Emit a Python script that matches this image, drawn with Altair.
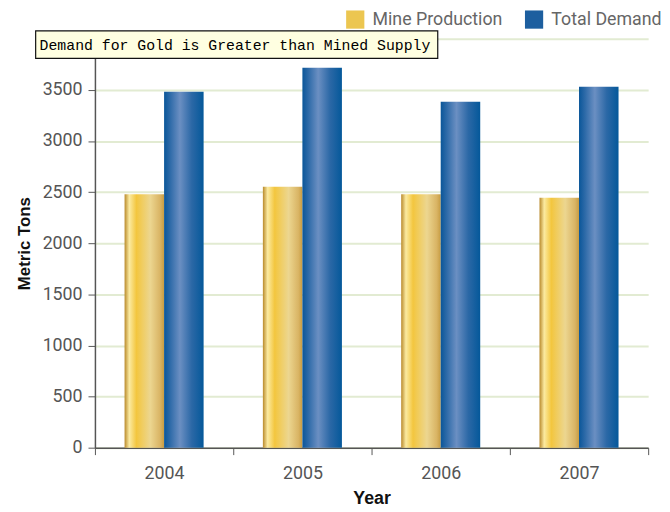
import altair as alt
import pandas as pd

years = ["2004", "2005", "2006", "2007"]
mine_production = [2478, 2552, 2478, 2444]
total_demand = [3482, 3716, 3384, 3529]
series_names = ["Mine Production", "Total Demand"]
note_text = "Demand for Gold is Greater than Mined Supply"

rows = []
for i, yr in enumerate(years):
    rows.append({"Year": yr, "Series": series_names[0], "Tons": mine_production[i]})
    rows.append({"Year": yr, "Series": series_names[1], "Tons": total_demand[i]})
df = pd.DataFrame(rows)

FONT = "Roboto, sans-serif"
BOLD = "Liberation Sans, Arial, sans-serif"

gold_grad = alt.Gradient(
    gradient="linear", x1=0, x2=1, y1=0, y2=0,
    stops=[
        alt.GradientStop(color="#b98a2c", offset=0.0),
        alt.GradientStop(color="#fbeaa0", offset=0.12),
        alt.GradientStop(color="#f3c63e", offset=0.3),
        alt.GradientStop(color="#ecd690", offset=0.65),
        alt.GradientStop(color="#d9b464", offset=0.9),
        alt.GradientStop(color="#c79c42", offset=1.0),
    ],
)
blue_grad = alt.Gradient(
    gradient="linear", x1=0, x2=1, y1=0, y2=0,
    stops=[
        alt.GradientStop(color="#0a5699", offset=0.0),
        alt.GradientStop(color="#2d6aa8", offset=0.15),
        alt.GradientStop(color="#6b8fc2", offset=0.4),
        alt.GradientStop(color="#2b68a6", offset=0.7),
        alt.GradientStop(color="#04589a", offset=1.0),
    ],
)

x_enc = alt.X(
    "Year:N",
    title="Year",
    scale=alt.Scale(paddingInner=0, paddingOuter=0),
    axis=alt.Axis(
        labelAngle=0, tickBand="extent", tickSize=7, tickColor="#555555",
        domainColor="#555555", domainWidth=1.5, labelColor="#555555",
        labelFontSize=18, labelFont=FONT, labelPadding=10,
        titleFont=BOLD, titleFontSize=18,
        titleFontWeight="bold", titleColor="#111111", titlePadding=8,
    ),
)
y_enc = alt.Y(
    "Tons:Q",
    title="Metric Tons",
    scale=alt.Scale(domain=[0, 4000], nice=False),
    axis=alt.Axis(
        values=[0, 500, 1000, 1500, 2000, 2500, 3000, 3500, 4000], format="d",
        labelExpr="datum.value == 4000 ? '' : datum.label",
        grid=True, gridColor="#e2ebd2", gridWidth=2,
        tickSize=7, tickColor="#555555", domainColor="#555555", domainWidth=1.5,
        labelColor="#555555", labelFontSize=18, labelFont=FONT, labelPadding=6,
        titleFont=BOLD, titleFontSize=17,
        titleFontWeight="bold", titleColor="#111111", titlePadding=9,
    ),
)
xoff = alt.XOffset("Series:N", scale=alt.Scale(domain=series_names, paddingInner=0, paddingOuter=0.75))

base = alt.Chart(df)

legend_layer = base.mark_bar(opacity=0).encode(
    x=x_enc, y=y_enc, xOffset=xoff,
    color=alt.Color(
        "Series:N",
        scale=alt.Scale(domain=series_names, range=["#ecc650", "#1d5f9f"]),
        legend=alt.Legend(
            title=None, orient="none", legendX=254, legendY=-29,
            direction="horizontal", symbolType="square", symbolSize=340,
            symbolOpacity=1, symbolStrokeWidth=0, labelFontSize=18,
            labelFont=FONT, labelColor="#666666", labelOffset=8,
            columnPadding=22,
        ),
    ),
)

gold_layer = base.transform_filter(alt.datum.Series == series_names[0]).mark_bar(fill=gold_grad).encode(
    x=x_enc, y=y_enc, xOffset=xoff
)
blue_layer = base.transform_filter(alt.datum.Series == series_names[1]).mark_bar(fill=blue_grad).encode(
    x=x_enc, y=y_enc, xOffset=xoff
)

note_df = pd.DataFrame({"note": [note_text]})
note_box = alt.Chart(note_df).mark_rect(fill="#ffffe1", stroke="#111111", strokeWidth=1.2).encode(
    x=alt.value(-60), x2=alt.value(347), y=alt.value(-8), y2=alt.value(20)
)
note_label = alt.Chart(note_df).mark_text(
    align="left", baseline="middle", font="Liberation Mono, DejaVu Sans Mono, monospace",
    fontSize=15, color="#000000", fontWeight=500,
).encode(x=alt.value(-56), y=alt.value(6), text="note:N")

chart = alt.layer(legend_layer, gold_layer, blue_layer, note_box, note_label).properties(
    width=560, height=414,
    autosize=alt.AutoSizeParams(type="none"),
    padding={"left": 88, "top": 28, "right": 14, "bottom": 60},
).configure_view(stroke=None)

chart.save("out.html", embed_options={"renderer": "svg", "actions": False})
